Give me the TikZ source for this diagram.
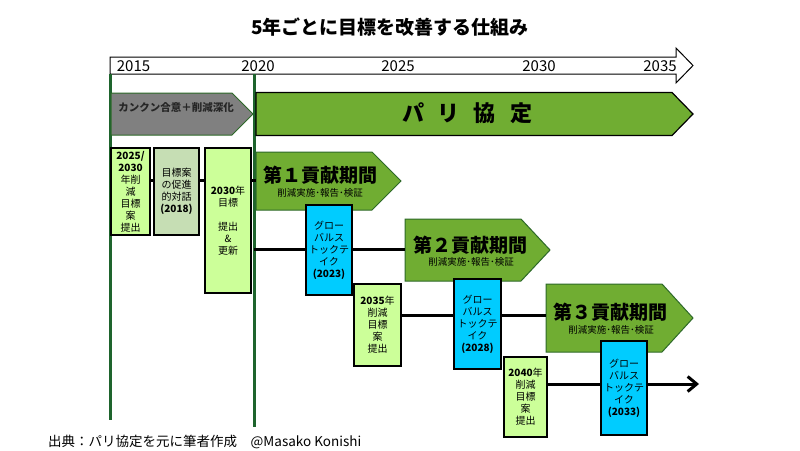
\documentclass[tikz,border=0pt]{standalone}
\usepackage{fontspec}
\setmainfont{Noto Sans CJK JP}
\usetikzlibrary{arrows.meta}
\definecolor{paris}{RGB}{112,173,50}
\definecolor{darkg}{RGB}{45,105,40}
\definecolor{vline}{RGB}{30,100,45}
\definecolor{grayarr}{RGB}{128,128,128}
\definecolor{lgreen}{RGB}{204,255,153}
\definecolor{sage}{RGB}{198,222,180}
\definecolor{cyanbox}{RGB}{0,204,255}
\tikzset{
  box/.style={draw=black, line width=1.2pt, align=center, inner sep=0pt,
    font=\fontsize{10}{12}\selectfont},
  greenbox/.style={box, fill=lgreen},
  sagebox/.style={box, fill=sage},
  stocktake/.style={box, fill=cyanbox},
  conn/.style={draw=black, line width=3pt},
  period/.style={fill=paris, draw=darkg, line width=1pt},
  parisarrow/.style={fill=paris, draw=black, line width=1.2pt},
  grayarrow/.style={fill=grayarr, draw=darkg, line width=1pt},
  timeline/.style={fill=white, draw=black, line width=1pt},
  yearline/.style={draw=vline, line width=3pt},
  year/.style={font=\fontsize{15}{15}\selectfont, anchor=base, inner sep=0pt},
  ptitle/.style={font=\fontsize{19}{19}\selectfont\bfseries, inner sep=0pt},
  psub/.style={font=\fontsize{9.5}{9.5}\selectfont, inner sep=0pt},
}
\begin{document}
\begin{tikzpicture}[x=1pt,y=-1pt]
\fill[white] (0,0) rectangle (800,450);
\useasboundingbox (0,0) rectangle (800,450);

% title
\node[font=\fontsize{19}{19}\selectfont\bfseries] (title) at (390,27) {5年ごとに目標を改善する仕組み};

% timeline arrow
\draw[timeline] (110,57) -- (676,57) -- (676,48) -- (693,65.5) -- (676,83) -- (676,74) -- (110,74) -- cycle;
\node[year] (y2015) at (133.5,71.5) {2015};
\node[year] (y2020) at (258,71.5) {2020};
\node[year] (y2025) at (398,71.5) {2025};
\node[year] (y2030) at (539,71.5) {2030};
\node[year] (y2035) at (660,71.5) {2035};

% vertical year lines
\coordinate (v1top) at (110,74);
\coordinate (v1bot) at (110,420);
\coordinate (v2top) at (254,74);
\coordinate (v2bot) at (254,427);
\draw[yearline] (v1top) -- (v1bot);
\draw[yearline] (v2top) -- (v2bot);

% Cancun arrow
\draw[grayarrow] (111,93) -- (232,93) -- (253,114) -- (232,135) -- (111,135) -- cycle;
\node[font=\fontsize{10.5}{10.5}\selectfont\bfseries, text=black!85, inner sep=0pt] (cancun) at (176,108) {カンクン合意＋削減深化};

% Paris arrow
\draw[parisarrow] (256,92.5) -- (672,92.5) -- (693,114) -- (672,135.5) -- (256,135.5) -- cycle;
\node[font=\fontsize{22}{22}\selectfont\bfseries, inner sep=0pt] (paris) at (467,113) {パ\hspace{14pt}リ\hspace{14pt}協\hspace{14pt}定};

% commitment period arrows
\draw[period] (256,152) -- (372,152) -- (401,181) -- (372,210) -- (256,210) -- cycle;
\node[ptitle] (p1) at (320,175) {第１貢献期間};
\node[psub] (p1s) at (320,193) {削減実施･報告･検証};
\coordinate (a1w) at (256,180);

\draw[period] (405,219) -- (521,219) -- (550,250) -- (521,281) -- (405,281) -- cycle;
\node[ptitle] (p2) at (470,245) {第２貢献期間};
\node[psub] (p2s) at (471,262) {削減実施･報告･検証};
\coordinate (a2w) at (405,249.5);

\draw[period] (546,284) -- (662,284) -- (693,318) -- (662,352) -- (546,352) -- cycle;
\node[ptitle] (p3) at (610,312) {第３貢献期間};
\node[psub] (p3s) at (611,330) {削減実施･報告･検証};
\coordinate (a3w) at (546,315);

\coordinate (row2start) at (254,249.5);
\coordinate (end4) at (699,384);

% boxes
\node[greenbox, minimum width=39pt, minimum height=87pt] (b1) at (130.5,191.5)
  {\textbf{2025/}\\\textbf{2030}\\年削\\減\\目標\\案\\提出};
\node[sagebox, minimum width=45pt, minimum height=87pt] (b2) at (176.5,191.5)
  {目標案\\の促進\\的対話\\\textbf{(2018)}};
\node[greenbox, minimum width=46pt, minimum height=145pt] (b3) at (228,220.5)
  {\textbf{2030}年\\目標\\[12pt]提出\\\&\\更新};
\node[stocktake, minimum width=46pt, minimum height=90pt] (g1) at (329,250)
  {グロー\\バルス\\トックテ\\イク\\\textbf{(2023)}};
\node[greenbox, minimum width=47pt, minimum height=82pt] (b4) at (377.5,325)
  {\textbf{2035}年\\削減\\目標\\案\\提出};
\node[stocktake, minimum width=47pt, minimum height=90pt] (g2) at (477.5,324)
  {グロー\\バルス\\トックテ\\イク\\\textbf{(2028)}};
\node[greenbox, minimum width=43pt, minimum height=80pt] (b5) at (525.5,397)
  {\textbf{2040}年\\削減\\目標\\案\\提出};
\node[stocktake, minimum width=46pt, minimum height=94pt] (g3) at (624,388)
  {グロー\\バルス\\トックテ\\イク\\\textbf{(2033)}};

% connectors
\draw[conn] (b1.east |- a1w) -- (b2.west |- a1w);
\draw[conn] (b2.east |- a1w) -- (b3.west |- a1w);
\draw[conn] (b3.east |- a1w) -- (a1w);
\draw[conn] (row2start) -- (g1.west |- a2w);
\draw[conn] (g1.east |- a2w) -- (a2w);
\draw[conn] (b4.east |- a3w) -- (g2.west |- a3w);
\draw[conn] (g2.east |- a3w) -- (a3w);
\draw[conn] (b5.east |- end4) -- (g3.west |- end4);
\draw[conn, -{Straight Barb[length=9pt 0 0, width=15pt 0 0]}] (g3.east |- end4) -- (end4);

% footer
\node[font=\fontsize{13.5}{13.5}\selectfont, anchor=west, inner sep=0pt] (footer) at (48,441.5) {出典：パリ協定を元に筆者作成　@Masako Konishi};
\end{tikzpicture}
\end{document}
